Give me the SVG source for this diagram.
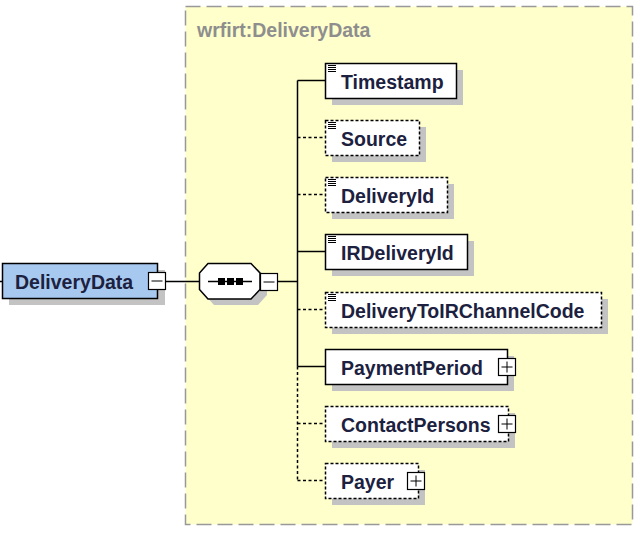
<svg xmlns="http://www.w3.org/2000/svg" width="644" height="535" viewBox="0 0 644 535">
<style>
.shadow{fill:#c3c3c3;stroke:none}
.el{fill:#ffffff;stroke:#000;stroke-width:1.5}
.opt{fill:#ffffff;stroke:#000;stroke-width:1.5;stroke-dasharray:3 2}
.lbl{font-family:"Liberation Sans",Arial,sans-serif;font-weight:bold;font-size:19.5px;fill:#1c2140}
.ln{stroke:#000;stroke-width:1.5;fill:none}
.dl{stroke:#000;stroke-width:1.5;fill:none;stroke-dasharray:3 2.5}
.btn{fill:#fff;stroke:#000;stroke-width:1.2}
.ico{stroke:#000;stroke-width:1}
</style>
<defs>
<g id="icon">
<line class="ico" x1="0" y1="0.5" x2="8" y2="0.5"/>
<line class="ico" x1="0" y1="2.5" x2="8" y2="2.5"/>
<line class="ico" x1="0" y1="4.5" x2="8" y2="4.5"/>
<line class="ico" x1="0" y1="6.5" x2="8" y2="6.5"/>
</g>
<g id="plus">
<rect class="btn" x="0" y="0" width="17" height="17"/>
<line class="ico" x1="3" y1="8.5" x2="14" y2="8.5"/>
<line class="ico" x1="8.5" y1="3" x2="8.5" y2="14"/>
</g>
<g id="minus">
<rect class="btn" x="0" y="0" width="17" height="17"/>
<line class="ico" x1="3" y1="8.5" x2="14" y2="8.5"/>
</g>
</defs>

<g id="complexType">
<rect x="185.5" y="6.5" width="447" height="518" fill="#ffffcc" stroke="#999" stroke-width="1.5" stroke-dasharray="15 6"/>
<text x="197" y="37" font-family="'Liberation Sans',Arial,sans-serif" font-weight="bold" font-size="19.5px" fill="#8e8e8e">wrfirt:DeliveryData</text>
</g>

<g id="connectors">
<line class="ln" x1="0" y1="281.5" x2="3" y2="281.5"/>
<line class="ln" x1="165" y1="281.5" x2="199" y2="281.5"/>
<line class="ln" x1="277" y1="281.5" x2="297.5" y2="281.5"/>
<line class="ln" x1="297.5" y1="80.5" x2="297.5" y2="366.5"/>
<line class="dl" x1="297.5" y1="366.5" x2="297.5" y2="480.5"/>
<line class="ln" x1="297.5" y1="80.5" x2="325" y2="80.5"/>
<line class="dl" x1="297.5" y1="137.5" x2="325" y2="137.5"/>
<line class="dl" x1="297.5" y1="194.5" x2="325" y2="194.5"/>
<line class="ln" x1="297.5" y1="251.5" x2="325" y2="251.5"/>
<line class="dl" x1="297.5" y1="309.5" x2="325" y2="309.5"/>
<line class="ln" x1="297.5" y1="366.5" x2="325" y2="366.5"/>
<line class="dl" x1="297.5" y1="423.5" x2="325" y2="423.5"/>
<line class="dl" x1="297.5" y1="480.5" x2="325" y2="480.5"/>
</g>

<g id="DeliveryData">
<rect class="shadow" x="9" y="270" width="156" height="35"/>
<rect x="2.5" y="263.5" width="155" height="35" fill="#a8c9ef" stroke="#000" stroke-width="1.5"/>
<text class="lbl" x="15" y="288.5">DeliveryData</text>
<use href="#minus" x="148.5" y="272.5"/>
</g>

<g id="sequence">
<polygon class="shadow" points="214,269 258,269 267,279 267,295 258,305 214,305 205,295 205,279"/>
<polygon fill="#fff" stroke="#000" stroke-width="1.5" points="208,263.5 251,263.5 260,273 260,289.5 251,299 208,299 199.5,289.5 199.5,273"/>
<line class="ln" x1="208" y1="281.5" x2="252" y2="281.5"/>
<rect x="218" y="278" width="7" height="7" fill="#000"/>
<rect x="227" y="278" width="7" height="7" fill="#000"/>
<rect x="236" y="278" width="7" height="7" fill="#000"/>
<use href="#minus" x="260.5" y="273.5"/>
</g>

<g id="Timestamp">
<rect class="shadow" x="332" y="70" width="131" height="35"/>
<rect class="el" x="325.5" y="63.5" width="131" height="35"/>
<use href="#icon" x="328" y="65"/>
<text class="lbl" x="341" y="88.5">Timestamp</text>
</g>

<g id="Source">
<rect class="shadow" x="332" y="127" width="94" height="35"/>
<rect class="opt" x="325.5" y="120.5" width="94" height="35"/>
<use href="#icon" x="328" y="122"/>
<text class="lbl" x="341" y="145.5">Source</text>
</g>

<g id="DeliveryId">
<rect class="shadow" x="332" y="184" width="122" height="35"/>
<rect class="opt" x="325.5" y="177.5" width="122" height="35"/>
<use href="#icon" x="328" y="179"/>
<text class="lbl" x="341" y="202.5">DeliveryId</text>
</g>

<g id="IRDeliveryId">
<rect class="shadow" x="332" y="241" width="142" height="35"/>
<rect class="el" x="325.5" y="234.5" width="142" height="35"/>
<use href="#icon" x="328" y="236"/>
<text class="lbl" x="341" y="259.5">IRDeliveryId</text>
</g>

<g id="DeliveryToIRChannelCode">
<rect class="shadow" x="332" y="299" width="276" height="35"/>
<rect class="opt" x="325.5" y="292.5" width="276" height="35"/>
<use href="#icon" x="328" y="294"/>
<text class="lbl" x="341" y="317.5">DeliveryToIRChannelCode</text>
</g>

<g id="PaymentPeriod">
<rect class="shadow" x="332" y="356" width="182" height="35"/>
<rect class="el" x="325.5" y="349.5" width="182" height="35"/>
<text class="lbl" x="341" y="374.5">PaymentPeriod</text>
<use href="#plus" x="498.5" y="358.5"/>
</g>

<g id="ContactPersons">
<rect class="shadow" x="332" y="413" width="183" height="35"/>
<rect class="opt" x="325.5" y="406.5" width="183" height="35"/>
<text class="lbl" x="341" y="431.5">ContactPersons</text>
<use href="#plus" x="498.5" y="415.5"/>
</g>

<g id="Payer">
<rect class="shadow" x="332" y="470" width="93" height="35"/>
<rect class="opt" x="325.5" y="463.5" width="93" height="35"/>
<text class="lbl" x="341" y="488.5">Payer</text>
<use href="#plus" x="407.5" y="472.5"/>
</g>
</svg>
